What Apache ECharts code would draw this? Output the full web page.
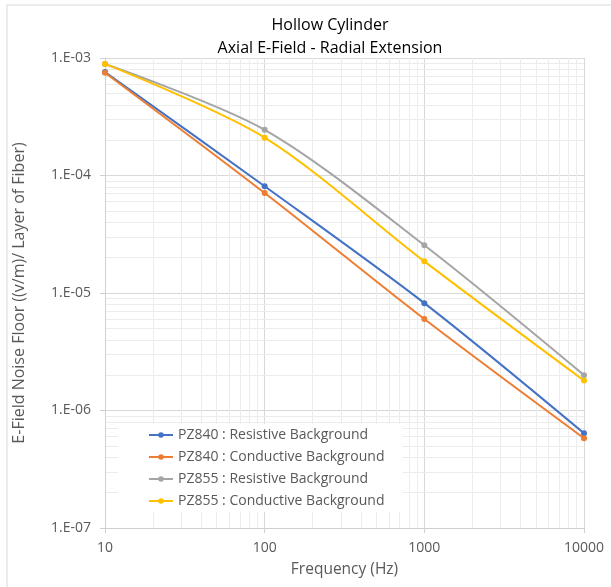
<html>
<head>
  <meta charset="utf-8">
  <title>Hollow Cylinder</title>
  <script src="https://cdn.jsdelivr.net/npm/echarts@6/dist/echarts.min.js"></script>
</head>
<body style="margin:0">
  <div id="main" style="width: 611px;height:587px;"></div>
  <script type="text/javascript">
    var freq = [10, 100, 1000, 10000]
    var pz840Resistive = [7.6e-4, 8.1e-5, 8.2e-6, 6.4e-7]
    var pz840Conductive = [7.5e-4, 7.1e-5, 6.0e-6, 5.8e-7]
    var pz855Resistive = [8.9e-4, 2.45e-4, 2.55e-5, 2.0e-6]
    var pz855Conductive = [8.9e-4, 2.1e-4, 1.86e-5, 1.8e-6]
    var seriesNames = ['PZ840 : Resistive Background', 'PZ840 : Conductive Background',
      'PZ855 : Resistive Background', 'PZ855 : Conductive Background']
    var xTickLabels = ['10', '100', '1000', '10000']
    var yTickLabels = ['1.E-07', '1.E-06', '1.E-05', '1.E-04', '1.E-03']

    // minor grid lines, 2..9 inside each decade
    var minorLines = []
    for (var d = 10; d < 10000; d *= 10) {
      for (var k = 2; k <= 9; k++) minorLines.push([{ coord: [k * d, 1e-7] }, { coord: [k * d, 1e-3] }])
    }
    for (var e = -7; e < -3; e++) {
      for (var k = 2; k <= 9; k++) {
        var v = k * Math.pow(10, e)
        minorLines.push([{ coord: [10, v] }, { coord: [10000, v] }])
      }
    }

    var colors = ['#4472C4', '#ED7D31', '#A5A5A5', '#FFC000']
    var values = [pz840Resistive, pz840Conductive, pz855Resistive, pz855Conductive]

    function pairs(ys) {
      return freq.map(function (f, i) { return [f, ys[i]] })
    }

    var series = [{
      name: 'minor',
      type: 'line',
      data: pairs(pz840Resistive),
      symbol: 'none',
      lineStyle: { opacity: 0 },
      silent: true,
      z: 0,
      markLine: {
        z: 0,
        silent: true,
        symbol: 'none',
        label: { show: false },
        animation: false,
        lineStyle: { color: '#ececec', width: 1, type: 'solid' },
        data: minorLines
      }
    }]
    for (var i = 0; i < 4; i++) {
      series.push({
        name: seriesNames[i],
        type: 'line',
        data: pairs(values[i]),
        smooth: 0.3,
        symbol: 'circle',
        symbolSize: 6,
        z: 3,
        itemStyle: { color: colors[i] },
        lineStyle: { color: colors[i], width: 2 }
      })
    }

    var myChart = echarts.init(document.getElementById('main'))
    myChart.setOption({
      animation: false,
      textStyle: { fontFamily: 'Open Sans' },
      title: {
        text: 'Hollow Cylinder\nAxial E-Field - Radial Extension',
        left: 325,
        top: 9,
        textAlign: 'center',
        textStyle: { fontSize: 16, fontWeight: 'normal', color: '#000', lineHeight: 23, fontFamily: 'Open Sans' }
      },
      graphic: [{
        type: 'polyline',
        shape: { points: [[7, 587], [7, 5], [611, 5]] },
        style: { stroke: '#d9d9d9', lineWidth: 1, fill: null },
        silent: true
      }],
      legend: {
        data: seriesNames,
        orient: 'vertical',
        left: 118,
        top: 424,
        z: 6,
        itemWidth: 24,
        itemHeight: 7,
        itemGap: 8,
        backgroundColor: '#fff',
        padding: [4, 18, 4, 30],
        textStyle: { fontSize: 14, color: '#595959', fontFamily: 'Open Sans' }
      },
      grid: { left: 105, right: 27, top: 58, bottom: 59 },
      xAxis: {
        type: 'log',
        logBase: 10,
        min: 10,
        max: 10000,
        name: 'Frequency (Hz)',
        nameLocation: 'middle',
        nameGap: 34,
        nameTextStyle: { fontSize: 15.5, color: '#595959' },
        axisLine: { show: true, lineStyle: { color: '#d0d0d0' } },
        axisTick: { show: true, length: 5, lineStyle: { color: '#d0d0d0' } },
        axisLabel: {
          fontSize: 14, color: '#595959', margin: 13,
          formatter: function (v) {
            var idx = Math.round(Math.log10(v)) - 1
            return xTickLabels[idx] || ''
          }
        },
        splitLine: { show: true, lineStyle: { color: '#d9d9d9' } }
      },
      yAxis: {
        type: 'log',
        logBase: 10,
        min: 1e-7,
        max: 1e-3,
        name: 'E-Field Noise Floor ((v/m)/ Layer of Fiber)',
        nameLocation: 'middle',
        nameGap: 78,
        nameTextStyle: { fontSize: 16, color: '#595959' },
        axisLine: { show: true, lineStyle: { color: '#d0d0d0' } },
        axisTick: { show: true, length: 5, lineStyle: { color: '#d0d0d0' } },
        axisLabel: {
          fontSize: 14, color: '#595959', margin: 14,
          formatter: function (v) {
            var idx = Math.round(Math.log10(v)) + 7
            return yTickLabels[idx] || ''
          }
        },
        splitLine: { show: true, lineStyle: { color: '#d9d9d9' } }
      },
      series: series
    })
  </script>
</body>
</html>
